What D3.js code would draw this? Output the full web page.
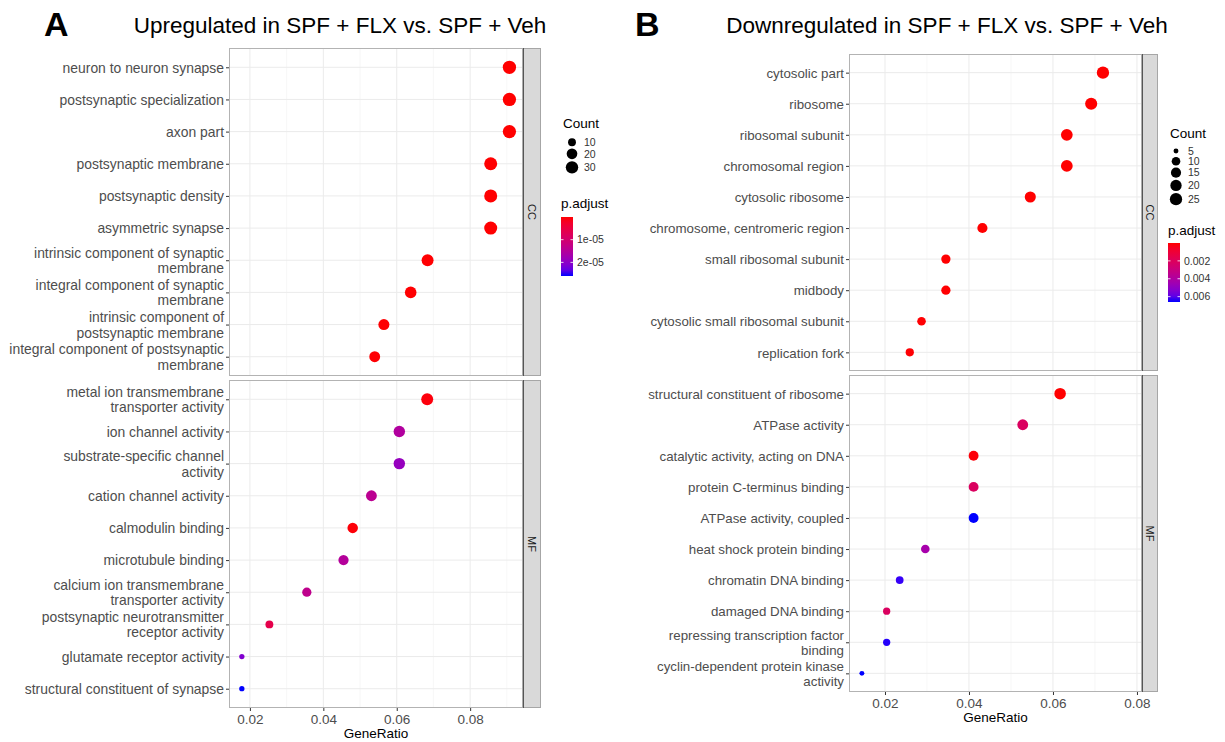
<!DOCTYPE html>
<html>
<head>
<meta charset="utf-8">
<script src="https://cdn.jsdelivr.net/npm/d3@7"></script>
<style>
  body { margin: 0; background: #fff; }
  svg { display: block; }
  text { font-family: "Liberation Sans", Arial, Helvetica, sans-serif; }
</style>
</head>
<body>
<svg id="chart" width="1225" height="742"></svg>
<script>
// ---- data ----
const upCCTerms = [
  "neuron to neuron synapse",
  "postsynaptic specialization",
  "axon part",
  "postsynaptic membrane",
  "postsynaptic density",
  "asymmetric synapse",
  "intrinsic component of synaptic\nmembrane",
  "integral component of synaptic\nmembrane",
  "intrinsic component of\npostsynaptic membrane",
  "integral component of postsynaptic\nmembrane"
];
const upCCRatio = [0.0907, 0.0907, 0.0907, 0.0856, 0.0856, 0.0856, 0.0684, 0.0638, 0.0565, 0.0540];
const upCCCount = [36, 36, 36, 34, 34, 34, 27, 25, 22, 21];
const upCCPadj = [2e-8, 2e-8, 3e-8, 5e-8, 5e-8, 5e-8, 1e-7, 1.2e-7, 1.5e-7, 2e-7];

const upMFTerms = [
  "metal ion transmembrane\ntransporter activity",
  "ion channel activity",
  "substrate-specific channel\nactivity",
  "cation channel activity",
  "calmodulin binding",
  "microtubule binding",
  "calcium ion transmembrane\ntransporter activity",
  "postsynaptic neurotransmitter\nreceptor activity",
  "glutamate receptor activity",
  "structural constituent of synapse"
];
const upMFRatio = [0.0683, 0.0607, 0.0607, 0.0531, 0.0480, 0.0455, 0.0355, 0.0253, 0.0178, 0.0178];
const upMFCount = [27, 24, 24, 21, 19, 18, 14, 10, 7, 7];
const upMFPadj = [5e-7, 1.55e-5, 1.9e-5, 1.4e-5, 4e-7, 1.5e-5, 1.35e-5, 6e-6, 2.1e-5, 2.6e-5];

const downCCTerms = [
  "cytosolic part",
  "ribosome",
  "ribosomal subunit",
  "chromosomal region",
  "cytosolic ribosome",
  "chromosome, centromeric region",
  "small ribosomal subunit",
  "midbody",
  "cytosolic small ribosomal subunit",
  "replication fork"
];
const downCCRatio = [0.0719, 0.0691, 0.0633, 0.0633, 0.0546, 0.0432, 0.0345, 0.0345, 0.0287, 0.0259];
const downCCCount = [25, 24, 22, 22, 19, 15, 12, 12, 10, 9];
const downCCPadj = [1e-6, 1e-6, 2e-6, 2e-6, 4e-6, 1e-5, 1.5e-5, 2e-5, 3e-5, 4e-5];

const downMFTerms = [
  "structural constituent of ribosome",
  "ATPase activity",
  "catalytic activity, acting on DNA",
  "protein C-terminus binding",
  "ATPase activity, coupled",
  "heat shock protein binding",
  "chromatin DNA binding",
  "damaged DNA binding",
  "repressing transcription factor\nbinding",
  "cyclin-dependent protein kinase\nactivity"
];
const downMFRatio = [0.0617, 0.0528, 0.0411, 0.0411, 0.0411, 0.0296, 0.0235, 0.0204, 0.0204, 0.0145];
const downMFCount = [21, 18, 14, 14, 14, 10, 8, 7, 7, 5];
const downMFPadj = [1e-5, 2.1e-3, 1e-4, 2.1e-3, 6.6e-3, 4.3e-3, 6.4e-3, 2.1e-3, 6.5e-3, 6.6e-3];

const xTicks = [0.02, 0.04, 0.06, 0.08];
const xMinor = [0.03, 0.05, 0.07, 0.09];
const upCountBreaks = [10, 20, 30];
const downCountBreaks = [5, 10, 15, 20, 25];
const upPadjBreaks = [1e-5, 2e-5];
const downPadjBreaks = [0.002, 0.004, 0.006];

const svg = d3.select("#chart");

function zip(terms, ratio, count, padj) {
  return terms.map((t, i) => ({ term: t, ratio: ratio[i], count: count[i], padj: padj[i] }));
}

function drawPlot(p) {
  const g = svg.append("g");
  const all = p.facets.flatMap(f => f.data);
  const cExt = d3.extent(all, d => d.count);
  const pExt = d3.extent(all, d => d.padj);

  const x = d3.scaleLinear().domain(p.xDomain).range([p.left, p.right]);
  const color = d3.scaleLinear().domain(pExt).range(["red", "blue"])
    .interpolate(d3.interpolateLab).clamp(true);
  // ggplot-like size scale: size range 3..8 on sqrt of rescaled count
  const radius = c => {
    const t = Math.max(0, (c - cExt[0]) / (cExt[1] - cExt[0]));
    const s = 3 + 5 * Math.sqrt(t);
    return p.k * (2.845 * s + 0.94) / 2;
  };

  // title + panel letter
  g.append("text").attr("x", p.letterX).attr("y", 36)
    .style("font-size", "34px").style("font-weight", "bold").text(p.letter);
  g.append("text").attr("x", p.titleX).attr("y", 33).attr("text-anchor", "middle")
    .style("font-size", "22.5px").text(p.title);

  p.facets.forEach((f, fi) => {
    const y = d3.scalePoint().domain(f.data.map(d => d.term))
      .range([f.top, f.bottom]).padding(0.6);

    g.append("rect").attr("x", p.left).attr("y", f.top)
      .attr("width", p.right - p.left).attr("height", f.bottom - f.top)
      .attr("fill", "#fff");

    // grid
    g.selectAll(null).data(xMinor.filter(v => v > p.xDomain[0] && v < p.xDomain[1]))
      .enter().append("line")
      .attr("x1", d => x(d)).attr("x2", d => x(d))
      .attr("y1", f.top).attr("y2", f.bottom)
      .attr("stroke", "#f3f3f3").attr("stroke-width", 0.7);
    g.selectAll(null).data(xTicks).enter().append("line")
      .attr("x1", d => x(d)).attr("x2", d => x(d))
      .attr("y1", f.top).attr("y2", f.bottom)
      .attr("stroke", "#ebebeb").attr("stroke-width", 1);
    g.selectAll(null).data(f.data).enter().append("line")
      .attr("x1", p.left).attr("x2", p.right)
      .attr("y1", d => y(d.term)).attr("y2", d => y(d.term))
      .attr("stroke", "#ebebeb").attr("stroke-width", 1);

    // dots
    g.selectAll(null).data(f.data).enter().append("circle")
      .attr("cx", d => x(d.ratio))
      .attr("cy", d => y(d.term))
      .attr("r", d => radius(d.count))
      .attr("fill", d => color(d.padj));

    // panel border
    g.append("rect").attr("x", p.left + 0.5).attr("y", f.top + 0.5)
      .attr("width", p.right - p.left - 1).attr("height", f.bottom - f.top - 1)
      .attr("fill", "none").attr("stroke", "#b3b3b3");

    // strip
    g.append("rect").attr("x", p.right).attr("y", f.top + 0.5)
      .attr("width", p.stripW - 0.5).attr("height", f.bottom - f.top - 1)
      .attr("fill", "#d9d9d9").attr("stroke", "#a6a6a6");
    g.append("line").attr("x1", p.right + 0.5).attr("x2", p.right + 0.5)
      .attr("y1", f.top).attr("y2", f.bottom).attr("stroke", "#555");
    g.append("text")
      .attr("transform", `translate(${p.right + p.stripW / 2},${(f.top + f.bottom) / 2}) rotate(90)`)
      .attr("text-anchor", "middle").attr("dy", "0.35em")
      .style("font-size", "11px").attr("fill", "#1a1a1a").text(f.name);

    // y axis
    const ya = g.append("g").attr("transform", `translate(${p.left},0)`)
      .call(d3.axisLeft(y).tickSize(3).tickPadding(2));
    ya.select(".domain").remove();
    ya.selectAll(".tick line").attr("stroke", "#333");
    ya.selectAll(".tick text").each(function (d) {
      const lines = d.split("\n");
      const t = d3.select(this).text(null)
        .attr("fill", "#4d4d4d").style("font-size", p.labelSize).attr("dy", null);
      lines.forEach((ln, i) => {
        t.append("tspan").attr("x", -5)
          .attr("dy", i === 0 ? (0.35 - (lines.length - 1) * 0.55) + "em" : "1.1em")
          .text(ln);
      });
    });

    // x axis on the bottom facet
    if (fi === p.facets.length - 1) {
      const xa = g.append("g").attr("transform", `translate(0,${f.bottom})`)
        .call(d3.axisBottom(x).tickValues(xTicks).tickSize(3).tickPadding(3)
          .tickFormat(d3.format(".2f")));
      xa.select(".domain").remove();
      xa.selectAll(".tick line").attr("stroke", "#333");
      xa.selectAll(".tick text").attr("fill", "#4d4d4d").style("font-size", "13.5px")
        .style("font-family", null);
      g.append("text").attr("x", (p.left + p.right) / 2).attr("y", f.bottom + 30)
        .attr("text-anchor", "middle").style("font-size", "13.5px").text("GeneRatio");
    }
  });

  // legend: Count
  const L = p.legend;
  g.append("text").attr("x", L.x).attr("y", L.countTitleY)
    .style("font-size", "13.5px").text("Count");
  let yy = L.keyTop;
  p.countBreaks.forEach(b => {
    const r = radius(b);
    const h = Math.max(L.keyMin, 2 * r + 2);
    const cy = yy + h / 2;
    g.append("circle").attr("cx", L.keyX).attr("cy", cy).attr("r", r).attr("fill", "#000");
    g.append("text").attr("x", L.keyX + 12).attr("y", cy).attr("dy", "0.35em")
      .style("font-size", "10.5px").attr("fill", "#333").text(b);
    yy += h;
  });

  // legend: p.adjust colourbar (low = red at top)
  g.append("text").attr("x", L.x - 2).attr("y", L.padjTitleY)
    .style("font-size", "13.5px").text("p.adjust");
  const gid = "grad" + p.letter;
  const grad = svg.append("defs").append("linearGradient").attr("id", gid)
    .attr("x1", 0).attr("x2", 0).attr("y1", 0).attr("y2", 1);
  d3.range(0, 1.0001, 0.1).forEach(t => {
    grad.append("stop").attr("offset", t)
      .attr("stop-color", color(pExt[0] + t * (pExt[1] - pExt[0])));
  });
  const by = d3.scaleLinear().domain(pExt).range([L.barTop, L.barBottom]);
  g.append("rect").attr("x", L.x - 2).attr("y", L.barTop).attr("width", 12)
    .attr("height", L.barBottom - L.barTop).attr("fill", `url(#${gid})`);
  p.padjBreaks.forEach(b => {
    g.append("line").attr("x1", L.x - 2).attr("x2", L.x + 0.5)
      .attr("y1", by(b)).attr("y2", by(b)).attr("stroke", "#fff").attr("stroke-opacity", 0.8);
    g.append("line").attr("x1", L.x + 7.5).attr("x2", L.x + 10)
      .attr("y1", by(b)).attr("y2", by(b)).attr("stroke", "#fff").attr("stroke-opacity", 0.8);
    g.append("text").attr("x", L.x + 14).attr("y", by(b)).attr("dy", "0.35em")
      .style("font-size", "10.5px").attr("fill", "#333")
      .text(b < 0.001 ? d3.format(".0e")(b).replace("e-5", "e-05") : b.toFixed(3));
  });
}

drawPlot({
  letter: "A", letterX: 44, title: "Upregulated in SPF + FLX vs. SPF + Veh", titleX: 340,
  left: 229, right: 523, stripW: 18, xDomain: [0.0143, 0.0944], k: 0.561, labelSize: "13.9px",
  facets: [
    { name: "CC", top: 48, bottom: 376, data: zip(upCCTerms, upCCRatio, upCCCount, upCCPadj) },
    { name: "MF", top: 380, bottom: 708, data: zip(upMFTerms, upMFRatio, upMFCount, upMFPadj) }
  ],
  countBreaks: upCountBreaks, padjBreaks: upPadjBreaks,
  legend: { x: 563, keyX: 572, countTitleY: 128, keyTop: 137, keyMin: 10.5,
            padjTitleY: 208, barTop: 217, barBottom: 276 }
});

drawPlot({
  letter: "B", letterX: 635, title: "Downregulated in SPF + FLX vs. SPF + Veh", titleX: 947,
  left: 849, right: 1142, stripW: 16, xDomain: [0.01143, 0.0812], k: 0.519, labelSize: "13.3px",
  facets: [
    { name: "CC", top: 54, bottom: 371, data: zip(downCCTerms, downCCRatio, downCCCount, downCCPadj) },
    { name: "MF", top: 375, bottom: 692, data: zip(downMFTerms, downMFRatio, downMFCount, downMFPadj) }
  ],
  countBreaks: downCountBreaks, padjBreaks: downPadjBreaks,
  legend: { x: 1170, keyX: 1176, countTitleY: 138, keyTop: 146, keyMin: 10,
            padjTitleY: 235, barTop: 243, barBottom: 302 }
});
</script>
</body>
</html>
